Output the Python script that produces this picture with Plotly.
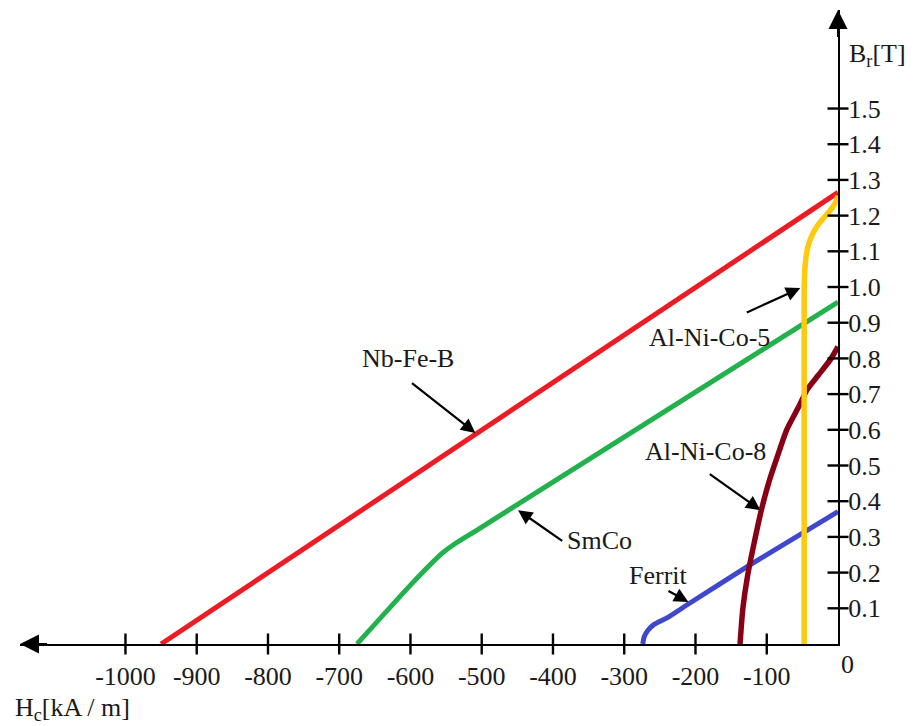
import plotly.graph_objects as go

# ---- data (H in kA/m, B in T) ----
ndfeb_h = [-950, 0]
ndfeb_b = [0, 1.265]

smco_h = [-675, -600, -555, -538, -510, 0]
smco_b = [0, 0.165, 0.255, 0.28, 0.315, 0.958]

ferrit_h = [-274, -272, -267, -258, -240, -210, -128, 0]
ferrit_b = [0, 0.02, 0.038, 0.055, 0.073, 0.112, 0.216, 0.371]

alnico8_h = [-137.5, -133.5, -127, -118, -107, -96, -86, -72, -55, -43.5, -28, -11, 0]
alnico8_b = [0, 0.1, 0.19, 0.28, 0.38, 0.46, 0.52, 0.6, 0.665, 0.712, 0.752, 0.796, 0.833]

alnico5_h = [-47.5, -47.5, -46.5, -44.5, -41.5, -37.5, -32.5, -26.5, -19.5, -11.5, -4.5, 0]
alnico5_b = [0, 0.98, 1.05, 1.09, 1.118, 1.14, 1.16, 1.178, 1.195, 1.213, 1.233, 1.255]

x_ticks = [-1000, -900, -800, -700, -600, -500, -400, -300, -200, -100]
x_ticktext = ["-1000", "-900", "-800", "-700", "-600", "-500", "-400", "-300", "-200", "-100"]
y_ticks = [0.1, 0.2, 0.3, 0.4, 0.5, 0.6, 0.7, 0.8, 0.9, 1.0, 1.1, 1.2, 1.3, 1.4, 1.5]
y_ticktext = ["0.1", "0.2", "0.3", "0.4", "0.5", "0.6", "0.7", "0.8", "0.9", "1.0",
              "1.1", "1.2", "1.3", "1.4", "1.5"]

# labels: (text, text_x, text_y, arrow_tail_x, arrow_tail_y, arrow_head_x, arrow_head_y)
labels = [
    ("Nb-Fe-B", -604, 0.80, -600, 0.734, -509, 0.591),
    ("SmCo", -335, 0.29, -385, 0.286, -449, 0.375),
    ("Ferrit", -252, 0.193, -240, 0.151, -210, 0.118),
    ("Al-Ni-Co-8", -186, 0.538, -182, 0.479, -109, 0.375),
    ("Al-Ni-Co-5", -181, 0.86, -130, 0.927, -53, 0.997),
]

X_MIN, Y_MAX = -1148, 1.776
FONT = "Liberation Serif, Times New Roman, serif"
FS = 26
TXT = "#1a1a1a"

fig = go.Figure()

fig.add_trace(go.Scatter(x=ndfeb_h, y=ndfeb_b, mode="lines",
                         line=dict(color="#ED1C24", width=5), cliponaxis=False))
fig.add_trace(go.Scatter(x=smco_h, y=smco_b, mode="lines",
                         line=dict(color="#22B14C", width=5, shape="spline", smoothing=0.5),
                         cliponaxis=False))
fig.add_trace(go.Scatter(x=ferrit_h, y=ferrit_b, mode="lines",
                         line=dict(color="#3F48CC", width=5, shape="spline", smoothing=0.6),
                         cliponaxis=False))
fig.add_trace(go.Scatter(x=alnico8_h, y=alnico8_b, mode="lines",
                         line=dict(color="#880015", width=5.5, shape="spline", smoothing=0.6),
                         cliponaxis=False))
fig.add_trace(go.Scatter(x=alnico5_h, y=alnico5_b, mode="lines",
                         line=dict(color="#FFC90E", width=5.5, shape="spline", smoothing=0.5),
                         cliponaxis=False))

# crossing tick marks
fig.add_trace(go.Scatter(x=x_ticks, y=[0] * len(x_ticks), mode="markers",
                         marker=dict(symbol="line-ns", size=15, line=dict(color="black", width=2.4)),
                         cliponaxis=False))
fig.add_trace(go.Scatter(x=[0] * len(y_ticks), y=y_ticks, mode="markers",
                         marker=dict(symbol="line-ew", size=15, line=dict(color="black", width=2.4)),
                         cliponaxis=False))

annotations = []
for text, tx, ty, ax, ay, hx, hy in labels:
    annotations.append(dict(x=tx, y=ty, xref="x", yref="y", text=text, showarrow=False,
                            font=dict(family=FONT, size=FS, color=TXT)))
    annotations.append(dict(x=hx, y=hy, ax=ax, ay=ay, xref="x", yref="y", axref="x", ayref="y",
                            text="", showarrow=True, arrowhead=2, arrowsize=1.3, arrowwidth=2.2,
                            arrowcolor="black", standoff=0, startstandoff=0))

# axis arrows
annotations.append(dict(x=X_MIN, y=0, ax=X_MIN + 40, ay=0, xref="x", yref="y", axref="x", ayref="y",
                        text="", showarrow=True, arrowhead=2, arrowsize=1.9, arrowwidth=2,
                        arrowcolor="black", standoff=0))
annotations.append(dict(x=0, y=Y_MAX, ax=0, ay=Y_MAX - 0.08, xref="x", yref="y", axref="x", ayref="y",
                        text="", showarrow=True, arrowhead=2, arrowsize=1.9, arrowwidth=2,
                        arrowcolor="black", standoff=0))

# axis titles and origin label
annotations.append(dict(x=1.0, y=(644 - 55) / 634, xref="paper", yref="paper",
                        xanchor="left", yanchor="middle", xshift=9,
                        text="B<sub>r</sub>[T]", showarrow=False,
                        font=dict(family=FONT, size=FS, color=TXT)))
annotations.append(dict(x=(13 - 20) / 818, y=(644 - 709) / 634, xref="paper", yref="paper",
                        xanchor="left", yanchor="middle",
                        text="H<sub>c</sub>[kA / m]", showarrow=False,
                        font=dict(family=FONT, size=FS, color=TXT)))
annotations.append(dict(x=1.0, y=0, xref="paper", yref="paper", xanchor="left", yanchor="top",
                        xshift=1, yshift=-4, text="0", showarrow=False,
                        font=dict(family=FONT, size=FS, color=TXT)))

fig.update_layout(
    width=915, height=726,
    margin=dict(l=20, r=77, t=10, b=82),
    paper_bgcolor="white", plot_bgcolor="white",
    showlegend=False,
    annotations=annotations,
    font=dict(family=FONT, size=FS, color=TXT),
    xaxis=dict(range=[X_MIN, 0], showgrid=False, zeroline=False, showline=True,
               linecolor="black", linewidth=2, ticks="outside", ticklen=8,
               tickcolor="rgba(0,0,0,0)", tickvals=x_ticks, ticktext=x_ticktext,
               tickfont=dict(family=FONT, size=FS, color=TXT)),
    yaxis=dict(range=[0, Y_MAX], side="right", showgrid=False, zeroline=False, showline=True,
               linecolor="black", linewidth=2, ticks="", tickvals=y_ticks, ticktext=y_ticktext,
               ticklabelstandoff=3, tickfont=dict(family=FONT, size=FS, color=TXT)),
)

fig.write_html("out.html")
